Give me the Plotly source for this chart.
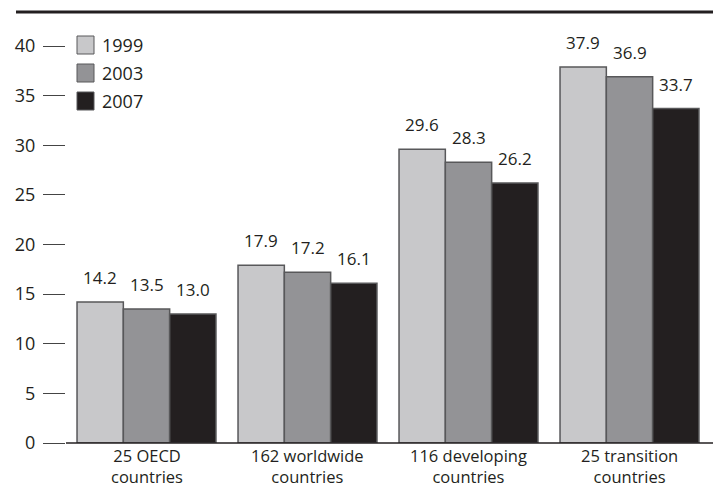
import plotly.graph_objects as go

categories = ["25 OECD<br>countries", "162 worldwide<br>countries",
              "116 developing<br>countries", "25 transition<br>countries"]
years = ["1999", "2003", "2007"]
v1999 = [14.2, 17.9, 29.6, 37.9]
v2003 = [13.5, 17.2, 28.3, 36.9]
v2007 = [13.0, 16.1, 26.2, 33.7]
yticks = [0, 5, 10, 15, 20, 25, 30, 35, 40]

colors = ["#c8c8ca", "#939396", "#231f20"]
series = [v1999, v2003, v2007]

W, H = 713, 489
ml, mr, mt, mb = 66, 3, 12, 46
pw, ph = W - ml - mr, H - mt - mb
FONT = "Open Sans"
TXT = "#231f20"
BARGAP = 0.137

def px(x):
    return (x - ml) / pw

def py(y):
    return (H - mb - y) / ph

fig = go.Figure()
for name, vals, col in zip(years, series, colors):
    fig.add_trace(go.Bar(
        x=categories, y=vals, name=name,
        marker=dict(color=col, line=dict(color="#58585a", width=1.5)),
        showlegend=False,
    ))

annotations = []
bar_px = pw / len(categories) * (1 - BARGAP) / len(series)
for j, vals in enumerate(series):
    for cat, v in zip(categories, vals):
        annotations.append(dict(x=cat, y=v, xref="x", yref="y", text=f"{v:.1f}",
                                showarrow=False, xanchor="center", yanchor="bottom",
                                xshift=(j - 1) * bar_px, yshift=11,
                                font=dict(size=17, color=TXT, family=FONT)))

# category labels
for cat in categories:
    annotations.append(dict(x=cat, xref="x", yref="paper", y=py(488.5),
                            text=cat, showarrow=False, xanchor="center", yanchor="bottom",
                            borderpad=0, font=dict(size=16.5, color=TXT, family=FONT)))

shapes = [
    dict(type="line", xref="paper", yref="paper", x0=px(16), x1=px(713), y0=py(12), y1=py(12),
         line=dict(color=TXT, width=3)),
    dict(type="line", xref="paper", yref="paper", x0=0, x1=px(713), y0=0, y1=0,
         line=dict(color=TXT, width=1.5)),
]
for i, (name, col) in enumerate(zip(years, colors)):
    cy = 45 + 28 * i
    shapes.append(dict(type="rect", xref="paper", yref="paper",
                       x0=px(77), x1=px(94), y0=py(cy - 9), y1=py(cy + 9),
                       fillcolor=col, line=dict(color="#58585a", width=1)))
    annotations.append(dict(xref="paper", yref="paper", x=px(100), y=py(cy),
                            text=name, showarrow=False, xanchor="left", yanchor="middle",
                            font=dict(size=18, color=TXT, family=FONT)))

fig.update_layout(
    width=W, height=H, margin=dict(l=ml, r=mr, t=mt, b=mb),
    paper_bgcolor="white", plot_bgcolor="white",
    barmode="group", bargap=BARGAP, bargroupgap=0,
    font=dict(family=FONT, color=TXT),
    shapes=shapes, annotations=annotations,
    xaxis=dict(showgrid=False, zeroline=False, showline=False, ticks="",
               showticklabels=False, range=[-0.5, 3.5], automargin=False),
    yaxis=dict(range=[0, 43.43], tickvals=yticks, showgrid=False, zeroline=False,
               showline=False, ticks="outside", ticklen=22, tickwidth=1.2, tickcolor="#444",
               tickfont=dict(size=18, color=TXT, family=FONT), ticklabelstandoff=4,
               automargin=False),
)
fig.write_html("out.html")
